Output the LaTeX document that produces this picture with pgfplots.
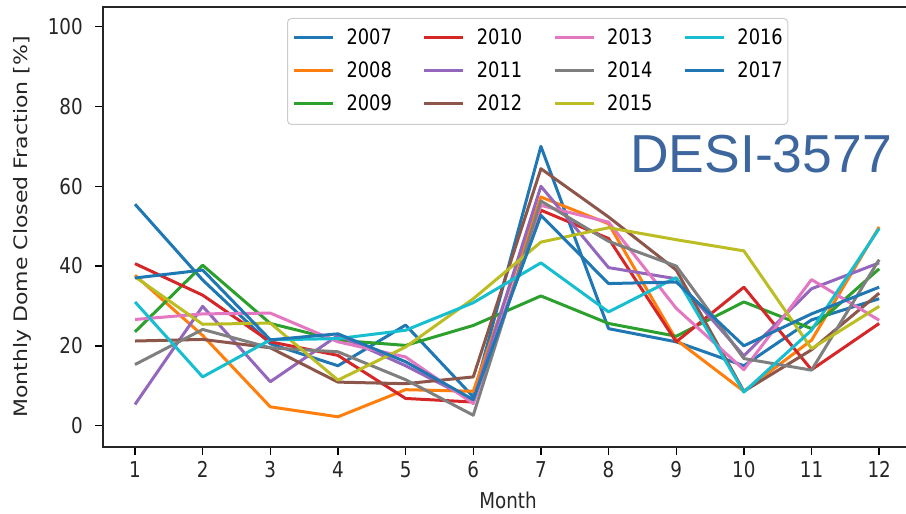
\documentclass[border=0pt]{standalone}
\usepackage{fontspec}
\setmainfont{DejaVu Sans}
\newfontfamily\tickfont{DejaVu Sans}[FakeStretch=0.84]
\newfontfamily\ylabfont{DejaVu Sans}[FakeStretch=1.19]
\newfontfamily\desifont{Liberation Sans}
\usepackage{pgfplots}
\pgfplotsset{compat=1.18}
\definecolor{c0}{HTML}{1F77B4}
\definecolor{c1}{HTML}{FF7F0E}
\definecolor{c2}{HTML}{2CA02C}
\definecolor{c3}{HTML}{D62728}
\definecolor{c4}{HTML}{9467BD}
\definecolor{c5}{HTML}{8C564B}
\definecolor{c6}{HTML}{E377C2}
\definecolor{c7}{HTML}{7F7F7F}
\definecolor{c8}{HTML}{BCBD22}
\definecolor{c9}{HTML}{17BECF}
\definecolor{desiblue}{RGB}{62,102,158}
\begin{document}
\begin{tikzpicture}
\path[use as bounding box] (-103bp,-67bp) rectangle (803bp,447bp);
\begin{axis}[
  at={(0,0)}, anchor=south west,
  scale only axis, width=810bp, height=440bp,
  xmin=0.527, xmax=12.5, ymin=-5.37, ymax=104.94,
  xtick={1,2,...,12}, ytick={0,20,...,100},
  tick align=outside, tick pos=left,
  major tick length=8bp,
  every tick/.style={black, line width=1.4bp},
  axis line style={line width=1.6bp, black!85},
  /pgf/number format/assume math mode=true,
  ticklabel style={font=\tickfont\fontsize{21.8bp}{24bp}\selectfont, text=black!85},
  xticklabel style={inner sep=0pt, anchor=north, yshift=-6bp},
  yticklabel style={inner sep=0pt, anchor=east, xshift=-12bp},
  xlabel={Month},
  xlabel style={font=\tickfont\fontsize{21.8bp}{24bp}\selectfont, text=black!85, at={(axis description cs:0.5,-0.1215)}, anchor=center, inner sep=0pt},
  ylabel={Monthly Dome Closed Fraction [\%]},
  ylabel style={font=\ylabfont\fontsize{18.5bp}{20bp}\selectfont, text=black!85, at={(axis description cs:-0.0994,0.5)}, anchor=center, inner sep=0pt},
  legend columns=4,
  legend cell align=left,
  legend style={at={(axis description cs:0.2272,0.975)}, anchor=north west,
    draw=black!20, line width=1bp, rounded corners=4bp, fill=white, fill opacity=0.8, text opacity=1,
    inner xsep=5bp, inner ysep=10bp,
    font=\tickfont\fontsize{21.2bp}{24bp}\selectfont,
    nodes={inner sep=0pt, text height=16bp, text depth=4bp},
    row sep=13bp,
    /tikz/every odd column/.append style={column sep=12bp},
    /tikz/every even column/.append style={column sep=31bp}},
  legend image code/.code={\draw[#1, line width=3bp] (0bp,1bp) -- (39bp,1bp);},
  every axis plot/.append style={line width=3bp, line join=round},
]
\addplot[c0, forget plot] coordinates {(1,55.5)(2,36.5)(3,20.5)(4,15)(5,25.2)(6,7.2)(7,70)(8,24.3)(9,21)(10,15)(11,26.5)(12,31.8)};
\addplot[c1, forget plot] coordinates {(1,37.7)(2,22.6)(3,4.7)(4,2.2)(5,9.0)(6,8.6)(7,57.3)(8,50.6)(9,21.5)(10,8.6)(11,21.4)(12,49.8)};
\addplot[c2, forget plot] coordinates {(1,23.5)(2,40.2)(3,25.6)(4,21.4)(5,20.1)(6,25.1)(7,32.5)(8,25.6)(9,22.4)(10,31.0)(11,24.3)(12,39.3)};
\addplot[c3, forget plot] coordinates {(1,40.6)(2,32.7)(3,21.0)(4,17.6)(5,6.8)(6,5.9)(7,54.0)(8,46.9)(9,21.0)(10,34.7)(11,14.0)(12,25.6)};
\addplot[c4, forget plot] coordinates {(1,5.3)(2,29.9)(3,11.0)(4,22.6)(5,15.0)(6,6.3)(7,60.0)(8,39.6)(9,36.8)(10,17.5)(11,34.3)(12,40.8)};
\addplot[c5, forget plot] coordinates {(1,21.2)(2,21.6)(3,19.5)(4,10.9)(5,10.5)(6,12.2)(7,64.4)(8,52.3)(9,39.0)(10,8.6)(11,19.0)(12,33.2)};
\addplot[c6, forget plot] coordinates {(1,26.6)(2,28.0)(3,28.2)(4,21.0)(5,17.2)(6,5.5)(7,55.2)(8,51.0)(9,29.4)(10,14.0)(11,36.6)(12,26.4)};
\addplot[c7, forget plot] coordinates {(1,15.3)(2,24.1)(3,19.5)(4,18.5)(5,11.5)(6,2.6)(7,56.3)(8,46.2)(9,40.0)(10,16.8)(11,13.9)(12,41.6)};
\addplot[c8, forget plot] coordinates {(1,37.3)(2,25.4)(3,25.7)(4,11.4)(5,19.7)(6,31.8)(7,46.0)(8,49.6)(9,46.6)(10,43.8)(11,19.3)(12,29.9)};
\addplot[c9, forget plot] coordinates {(1,31.0)(2,12.2)(3,21.5)(4,21.8)(5,23.9)(6,30.8)(7,40.8)(8,28.5)(9,37.1)(10,8.4)(11,23.9)(12,49.4)};
\addplot[c0, forget plot] coordinates {(1,37)(2,39)(3,21.5)(4,23)(5,16)(6,6.5)(7,52.7)(8,35.6)(9,36)(10,20)(11,28)(12,34.7)};
\addlegendimage{c0}\addlegendentry{2007}
\addlegendimage{c3}\addlegendentry{2010}
\addlegendimage{c6}\addlegendentry{2013}
\addlegendimage{c9}\addlegendentry{2016}
\addlegendimage{c1}\addlegendentry{2008}
\addlegendimage{c4}\addlegendentry{2011}
\addlegendimage{c7}\addlegendentry{2014}
\addlegendimage{c0}\addlegendentry{2017}
\addlegendimage{c2}\addlegendentry{2009}
\addlegendimage{c5}\addlegendentry{2012}
\addlegendimage{c8}\addlegendentry{2015}
\end{axis}
\node[anchor=base west, inner sep=0pt, text=desiblue, font=\desifont\fontsize{53.5bp}{60bp}\selectfont] at (527bp,274bp) {DESI-3577};
\end{tikzpicture}
\end{document}
